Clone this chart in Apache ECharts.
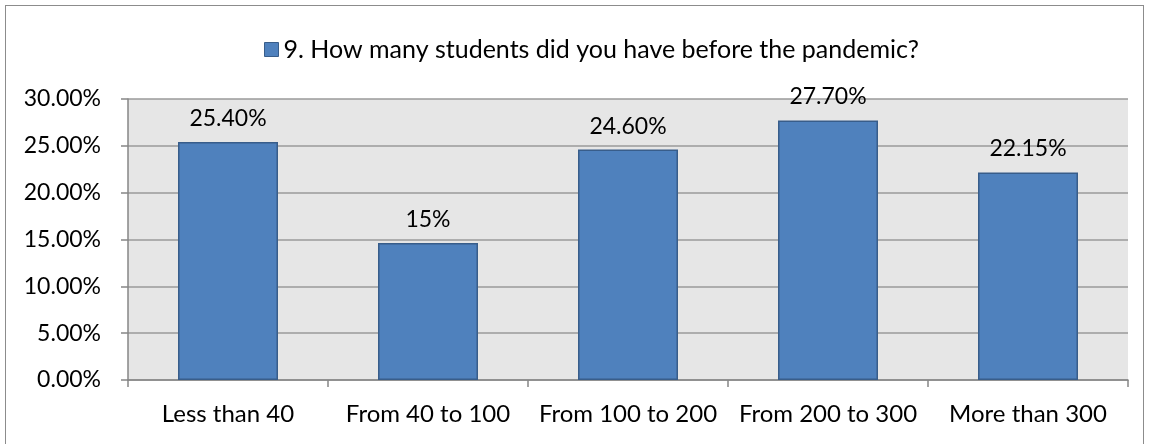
<!DOCTYPE html>
<html><head><meta charset="utf-8">
<script src="https://cdn.jsdelivr.net/npm/echarts@6/dist/echarts.min.js"></script>
<style>html,body{margin:0;padding:0;background:#fff}#c{width:1150px;height:444px}
#b{position:absolute;left:5px;top:5px;width:1139px;height:445px;border:1.5px solid #8c8c8c;box-sizing:border-box;pointer-events:none}</style>
</head><body><div id="c"></div><div id="b"></div>
<script>
const categories = ['Less than 40','From 40 to 100','From 100 to 200','From 200 to 300','More than 300'];
const values = [25.40, 14.62, 24.60, 27.70, 22.15];
const valueLabels = ['25.40%','15%','24.60%','27.70%','22.15%'];
const seriesName = '9. How many students did you have before the pandemic?';
const F = 'Lato';
const chart = echarts.init(document.getElementById('c'));
chart.setOption({
  animation:false,
  textStyle:{fontFamily:F},
  legend:{top:32,left:259,icon:'rect',itemWidth:14,itemHeight:14,itemGap:6,
    textStyle:{fontFamily:F,fontSize:25,color:'#000'},data:[seriesName],
    itemStyle:{borderColor:'#385d8a',borderWidth:1}},
  grid:{left:128,right:22,top:99,bottom:64,show:true,backgroundColor:'#e6e6e6',borderWidth:0},
  xAxis:{type:'category',data:categories,
    axisLine:{lineStyle:{color:'#868686',width:1.5}},
    axisTick:{show:true,length:7,lineStyle:{color:'#868686',width:1.5}},
    axisLabel:{interval:0,hideOverlap:false,fontFamily:F,fontSize:24,color:'#000',margin:22}},
  yAxis:{type:'value',min:0,max:30,interval:5,
    axisLine:{show:true,lineStyle:{color:'#868686',width:1.5}},
    axisTick:{show:true,length:7,lineStyle:{color:'#868686',width:1.5}},
    splitLine:{lineStyle:{color:'#9a9a9a',width:1.5}},
    axisLabel:{fontFamily:F,fontSize:23,color:'#000',margin:27,formatter:v=>v.toFixed(2)+'%'}},
  series:[{name:seriesName,type:'bar',data:values,barWidth:'50%',
    itemStyle:{color:'#4f81bd',borderColor:'#385d8a',borderWidth:1.5},
    label:{show:true,position:'top',distance:12,fontFamily:F,fontSize:23,color:'#000',
      formatter:p=>valueLabels[p.dataIndex]}}]
});
</script></body></html>
